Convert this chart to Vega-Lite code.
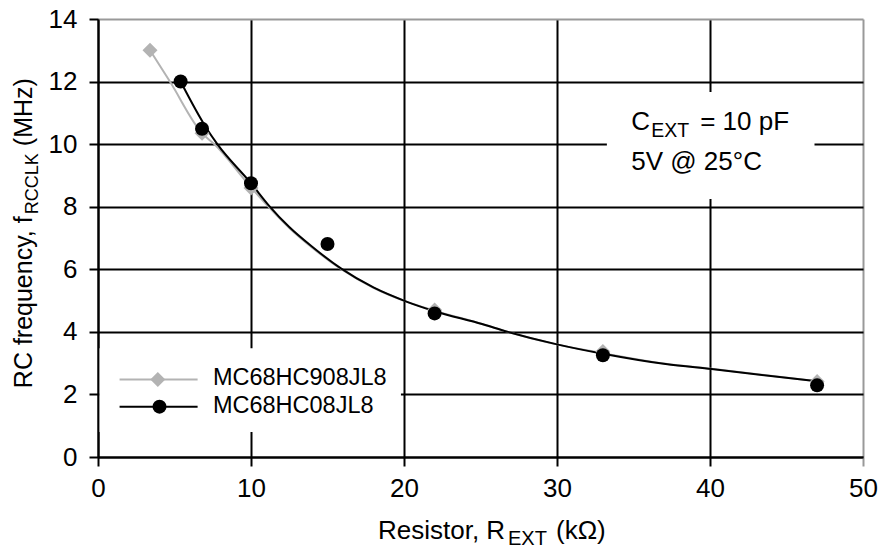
{
  "$schema": "https://vega.github.io/schema/vega-lite/v6.json",
  "width": 765,
  "height": 438,
  "autosize": {"type": "none"},
  "padding": {"left": 98, "top": 19, "right": 19, "bottom": 91},
  "background": "white",
  "config": {
    "view": {"stroke": null},
    "font": "Liberation Sans"
  },
  "datasets": {
    "measured": [
      {"series": "MC68HC908JL8", "r": 3.4, "f": 13.0},
      {"series": "MC68HC908JL8", "r": 6.8, "f": 10.35},
      {"series": "MC68HC908JL8", "r": 10, "f": 8.6},
      {"series": "MC68HC908JL8", "r": 22, "f": 4.7},
      {"series": "MC68HC908JL8", "r": 33, "f": 3.37},
      {"series": "MC68HC908JL8", "r": 47, "f": 2.41},
      {"series": "MC68HC08JL8", "r": 5.4, "f": 12.0},
      {"series": "MC68HC08JL8", "r": 6.8, "f": 10.49},
      {"series": "MC68HC08JL8", "r": 10, "f": 8.75},
      {"series": "MC68HC08JL8", "r": 15, "f": 6.81},
      {"series": "MC68HC08JL8", "r": 22, "f": 4.59},
      {"series": "MC68HC08JL8", "r": 33, "f": 3.25},
      {"series": "MC68HC08JL8", "r": 47, "f": 2.29}
    ],
    "curves": [
      {"series": "MC68HC908JL8", "r": 3.4, "f": 13.0},
      {"series": "MC68HC908JL8", "r": 4.7, "f": 12.0},
      {"series": "MC68HC908JL8", "r": 6.8, "f": 10.35},
      {"series": "MC68HC908JL8", "r": 7.6, "f": 10.0},
      {"series": "MC68HC908JL8", "r": 10.0, "f": 8.62},
      {"series": "MC68HC908JL8", "r": 11.2, "f": 7.97},
      {"series": "MC68HC908JL8", "r": 12.5, "f": 7.32},
      {"series": "MC68HC908JL8", "r": 14.0, "f": 6.69},
      {"series": "MC68HC908JL8", "r": 15.9, "f": 6.0},
      {"series": "MC68HC908JL8", "r": 18.0, "f": 5.41},
      {"series": "MC68HC908JL8", "r": 20.2, "f": 4.96},
      {"series": "MC68HC908JL8", "r": 22.0, "f": 4.68},
      {"series": "MC68HC908JL8", "r": 25.1, "f": 4.25},
      {"series": "MC68HC908JL8", "r": 26.8, "f": 4.0},
      {"series": "MC68HC908JL8", "r": 30.0, "f": 3.6},
      {"series": "MC68HC908JL8", "r": 33.0, "f": 3.32},
      {"series": "MC68HC908JL8", "r": 37.1, "f": 2.98},
      {"series": "MC68HC908JL8", "r": 40.1, "f": 2.82},
      {"series": "MC68HC908JL8", "r": 47.0, "f": 2.42},
      {"series": "MC68HC08JL8", "r": 5.4, "f": 12.0},
      {"series": "MC68HC08JL8", "r": 7.1, "f": 10.5},
      {"series": "MC68HC08JL8", "r": 7.8, "f": 10.0},
      {"series": "MC68HC08JL8", "r": 10.0, "f": 8.75},
      {"series": "MC68HC08JL8", "r": 11.2, "f": 8.02},
      {"series": "MC68HC08JL8", "r": 12.5, "f": 7.35},
      {"series": "MC68HC08JL8", "r": 14.0, "f": 6.72},
      {"series": "MC68HC08JL8", "r": 15.9, "f": 6.02},
      {"series": "MC68HC08JL8", "r": 18.0, "f": 5.42},
      {"series": "MC68HC08JL8", "r": 20.2, "f": 4.96},
      {"series": "MC68HC08JL8", "r": 22.0, "f": 4.66},
      {"series": "MC68HC08JL8", "r": 25.1, "f": 4.25},
      {"series": "MC68HC08JL8", "r": 26.8, "f": 4.0},
      {"series": "MC68HC08JL8", "r": 30.0, "f": 3.6},
      {"series": "MC68HC08JL8", "r": 33.0, "f": 3.3},
      {"series": "MC68HC08JL8", "r": 37.1, "f": 2.97},
      {"series": "MC68HC08JL8", "r": 40.1, "f": 2.81},
      {"series": "MC68HC08JL8", "r": 47.0, "f": 2.42}
    ],
    "notes": [
      {"part": "box_legend"},
      {"part": "box_conditions"},
      {"part": "leg_908", "label": "MC68HC908JL8"},
      {"part": "leg_08", "label": "MC68HC08JL8"},
      {"part": "cond_c", "label": "C"},
      {"part": "cond_sub", "label": "EXT"},
      {"part": "cond_value", "label": "= 10 pF"},
      {"part": "cond_line2", "label": "5V @ 25°C"},
      {"part": "xt_main", "label": "Resistor, R"},
      {"part": "xt_sub", "label": "EXT"},
      {"part": "xt_unit", "label": "(kΩ)"},
      {"part": "yt_main", "label": "RC frequency, f"},
      {"part": "yt_sub", "label": "RCCLK"},
      {"part": "yt_unit", "label": "(MHz)"}
    ]
  },
  "layer": [
    {
      "data": {"name": "notes"},
      "transform": [{"filter": "datum.part === 'box_legend'"}],
      "mark": {"type": "rect", "color": "white"},
      "encoding": {
        "x": {"datum": 0.1, "type": "quantitative", "scale": {"domain": [0, 50]}},
        "x2": {"datum": 19.8},
        "y": {"datum": 3.48, "type": "quantitative", "scale": {"domain": [0, 14]}},
        "y2": {"datum": 0.8}
      }
    },
    {
      "data": {"name": "notes"},
      "transform": [{"filter": "datum.part === 'box_conditions'"}],
      "mark": {"type": "rect", "color": "white"},
      "encoding": {
        "x": {"datum": 33.26, "type": "quantitative", "scale": {"domain": [0, 50]}},
        "x2": {"datum": 46.83},
        "y": {"datum": 11.67, "type": "quantitative", "scale": {"domain": [0, 14]}},
        "y2": {"datum": 8.25}
      }
    },
    {
      "encoding": {
        "x": {
          "field": "r",
          "type": "quantitative",
          "title": null,
          "scale": {"domain": [0, 50], "nice": false, "zero": false},
          "axis": {
            "values": [0, 10, 20, 30, 40, 50],
            "grid": true,
            "gridColor": {"condition": {"test": "datum.value === 50", "value": "#999999"}, "value": "#000000"},
            "gridWidth": 2,
            "gridOpacity": 1,
            "tickColor": {"condition": {"test": "datum.value === 50", "value": "#999999"}, "value": "#000000"},
            "tickSize": 9,
            "tickWidth": 2,
            "domainColor": "#000000",
            "domainWidth": 2,
            "labelFontSize": 26,
            "labelColor": "#000000",
            "labelPadding": 9,
            "labelFlush": false,
            "labelOverlap": false
          }
        },
        "y": {
          "field": "f",
          "type": "quantitative",
          "title": null,
          "scale": {"domain": [0, 14], "nice": false, "zero": false},
          "axis": {
            "values": [0, 2, 4, 6, 8, 10, 12, 14],
            "grid": true,
            "gridColor": {"condition": {"test": "datum.value === 14", "value": "#999999"}, "value": "#000000"},
            "gridWidth": 2,
            "gridOpacity": 1,
            "tickColor": "#000000",
            "tickSize": 9,
            "tickWidth": 2,
            "domainColor": "#000000",
            "domainWidth": 2,
            "labelFontSize": 26,
            "labelColor": "#000000",
            "labelPadding": 12,
            "labelOverlap": false
          }
        }
      },
      "layer": [
        {
          "data": {"name": "curves"},
          "transform": [{"filter": "datum.series === 'MC68HC908JL8'"}],
          "mark": {"type": "line", "color": "#b3b3b3", "strokeWidth": 2, "interpolate": "monotone"}
        },
        {
          "data": {"name": "curves"},
          "transform": [{"filter": "datum.series === 'MC68HC08JL8'"}],
          "mark": {"type": "line", "color": "#000000", "strokeWidth": 2, "interpolate": "monotone"}
        },
        {
          "data": {"name": "measured"},
          "mark": {"type": "point", "filled": true, "opacity": 1},
          "encoding": {
            "color": {
              "field": "series",
              "type": "nominal",
              "scale": {"domain": ["MC68HC908JL8", "MC68HC08JL8"], "range": ["#b3b3b3", "#000000"]},
              "legend": null
            },
            "shape": {
              "field": "series",
              "type": "nominal",
              "scale": {"domain": ["MC68HC908JL8", "MC68HC08JL8"], "range": ["diamond", "circle"]},
              "legend": null
            },
            "size": {
              "field": "series",
              "type": "nominal",
              "scale": {"domain": ["MC68HC908JL8", "MC68HC08JL8"], "range": [225, 196]},
              "legend": null
            }
          }
        }
      ]
    },
    {
      "data": {"name": "notes"},
      "transform": [{"filter": "datum.part === 'leg_908'"}],
      "mark": {"type": "rule", "color": "#b3b3b3", "strokeWidth": 2},
      "encoding": {
        "x": {"datum": 1.41, "type": "quantitative", "scale": {"domain": [0, 50]}},
        "x2": {"datum": 6.51},
        "y": {"datum": 2.48, "type": "quantitative", "scale": {"domain": [0, 14]}}
      }
    },
    {
      "data": {"name": "notes"},
      "transform": [{"filter": "datum.part === 'leg_908'"}],
      "mark": {"type": "point", "shape": "diamond", "filled": true, "size": 225, "color": "#b3b3b3", "opacity": 1},
      "encoding": {
        "x": {"datum": 3.91, "type": "quantitative", "scale": {"domain": [0, 50]}},
        "y": {"datum": 2.48, "type": "quantitative", "scale": {"domain": [0, 14]}}
      }
    },
    {
      "data": {"name": "notes"},
      "transform": [{"filter": "datum.part === 'leg_908'"}],
      "mark": {"type": "text", "fontSize": 23.5, "align": "left", "baseline": "middle", "dy": -1, "color": "#000000"},
      "encoding": {
        "x": {"datum": 7.51, "type": "quantitative", "scale": {"domain": [0, 50]}},
        "y": {"datum": 2.48, "type": "quantitative", "scale": {"domain": [0, 14]}},
        "text": {"field": "label"}
      }
    },
    {
      "data": {"name": "notes"},
      "transform": [{"filter": "datum.part === 'leg_08'"}],
      "mark": {"type": "rule", "color": "#000000", "strokeWidth": 2},
      "encoding": {
        "x": {"datum": 1.41, "type": "quantitative", "scale": {"domain": [0, 50]}},
        "x2": {"datum": 6.51},
        "y": {"datum": 1.61, "type": "quantitative", "scale": {"domain": [0, 14]}}
      }
    },
    {
      "data": {"name": "notes"},
      "transform": [{"filter": "datum.part === 'leg_08'"}],
      "mark": {"type": "point", "shape": "circle", "filled": true, "size": 196, "color": "#000000", "opacity": 1},
      "encoding": {
        "x": {"datum": 4.02, "type": "quantitative", "scale": {"domain": [0, 50]}},
        "y": {"datum": 1.61, "type": "quantitative", "scale": {"domain": [0, 14]}}
      }
    },
    {
      "data": {"name": "notes"},
      "transform": [{"filter": "datum.part === 'leg_08'"}],
      "mark": {"type": "text", "fontSize": 23.5, "align": "left", "baseline": "middle", "dy": -1, "color": "#000000"},
      "encoding": {
        "x": {"datum": 7.51, "type": "quantitative", "scale": {"domain": [0, 50]}},
        "y": {"datum": 1.61, "type": "quantitative", "scale": {"domain": [0, 14]}},
        "text": {"field": "label"}
      }
    },
    {
      "data": {"name": "notes"},
      "transform": [{"filter": "datum.part === 'cond_c'"}],
      "mark": {"type": "text", "fontSize": 26, "align": "left", "baseline": "alphabetic", "color": "#000000"},
      "encoding": {
        "x": {"datum": 34.85, "type": "quantitative", "scale": {"domain": [0, 50]}},
        "y": {"datum": 10.45, "type": "quantitative", "scale": {"domain": [0, 14]}},
        "text": {"field": "label"}
      }
    },
    {
      "data": {"name": "notes"},
      "transform": [{"filter": "datum.part === 'cond_sub'"}],
      "mark": {"type": "text", "fontSize": 19.5, "align": "left", "baseline": "alphabetic", "dx": 20, "dy": 7, "color": "#000000"},
      "encoding": {
        "x": {"datum": 34.85, "type": "quantitative", "scale": {"domain": [0, 50]}},
        "y": {"datum": 10.45, "type": "quantitative", "scale": {"domain": [0, 14]}},
        "text": {"field": "label"}
      }
    },
    {
      "data": {"name": "notes"},
      "transform": [{"filter": "datum.part === 'cond_value'"}],
      "mark": {"type": "text", "fontSize": 26, "align": "left", "baseline": "alphabetic", "dx": 69, "color": "#000000"},
      "encoding": {
        "x": {"datum": 34.85, "type": "quantitative", "scale": {"domain": [0, 50]}},
        "y": {"datum": 10.45, "type": "quantitative", "scale": {"domain": [0, 14]}},
        "text": {"field": "label"}
      }
    },
    {
      "data": {"name": "notes"},
      "transform": [{"filter": "datum.part === 'cond_line2'"}],
      "mark": {"type": "text", "fontSize": 26, "align": "left", "baseline": "alphabetic", "color": "#000000"},
      "encoding": {
        "x": {"datum": 34.85, "type": "quantitative", "scale": {"domain": [0, 50]}},
        "y": {"datum": 9.17, "type": "quantitative", "scale": {"domain": [0, 14]}},
        "text": {"field": "label"}
      }
    },
    {
      "data": {"name": "notes"},
      "transform": [{"filter": "datum.part === 'xt_main'"}],
      "mark": {"type": "text", "fontSize": 26, "align": "left", "baseline": "alphabetic", "color": "#000000"},
      "encoding": {
        "x": {"datum": 18.3, "type": "quantitative", "scale": {"domain": [0, 50]}},
        "y": {"datum": -2.63, "type": "quantitative", "scale": {"domain": [0, 14]}},
        "text": {"field": "label"}
      }
    },
    {
      "data": {"name": "notes"},
      "transform": [{"filter": "datum.part === 'xt_sub'"}],
      "mark": {"type": "text", "fontSize": 20, "align": "left", "baseline": "alphabetic", "dx": 130, "dy": 6, "color": "#000000"},
      "encoding": {
        "x": {"datum": 18.3, "type": "quantitative", "scale": {"domain": [0, 50]}},
        "y": {"datum": -2.63, "type": "quantitative", "scale": {"domain": [0, 14]}},
        "text": {"field": "label"}
      }
    },
    {
      "data": {"name": "notes"},
      "transform": [{"filter": "datum.part === 'xt_unit'"}],
      "mark": {"type": "text", "fontSize": 26, "align": "left", "baseline": "alphabetic", "dx": 178, "color": "#000000"},
      "encoding": {
        "x": {"datum": 18.3, "type": "quantitative", "scale": {"domain": [0, 50]}},
        "y": {"datum": -2.63, "type": "quantitative", "scale": {"domain": [0, 14]}},
        "text": {"field": "label"}
      }
    },
    {
      "data": {"name": "notes"},
      "transform": [{"filter": "datum.part === 'yt_main'"}],
      "mark": {"type": "text", "fontSize": 25, "angle": 270, "align": "left", "baseline": "alphabetic", "color": "#000000"},
      "encoding": {
        "x": {"datum": -4.29, "type": "quantitative", "scale": {"domain": [0, 50]}},
        "y": {"datum": 2.2, "type": "quantitative", "scale": {"domain": [0, 14]}},
        "text": {"field": "label"}
      }
    },
    {
      "data": {"name": "notes"},
      "transform": [{"filter": "datum.part === 'yt_sub'"}],
      "mark": {"type": "text", "fontSize": 18, "angle": 270, "align": "left", "baseline": "alphabetic", "dx": 174, "dy": 6, "color": "#000000"},
      "encoding": {
        "x": {"datum": -4.29, "type": "quantitative", "scale": {"domain": [0, 50]}},
        "y": {"datum": 2.2, "type": "quantitative", "scale": {"domain": [0, 14]}},
        "text": {"field": "label"}
      }
    },
    {
      "data": {"name": "notes"},
      "transform": [{"filter": "datum.part === 'yt_unit'"}],
      "mark": {"type": "text", "fontSize": 25, "angle": 270, "align": "left", "baseline": "alphabetic", "dx": 242, "color": "#000000"},
      "encoding": {
        "x": {"datum": -4.29, "type": "quantitative", "scale": {"domain": [0, 50]}},
        "y": {"datum": 2.2, "type": "quantitative", "scale": {"domain": [0, 14]}},
        "text": {"field": "label"}
      }
    }
  ]
}
